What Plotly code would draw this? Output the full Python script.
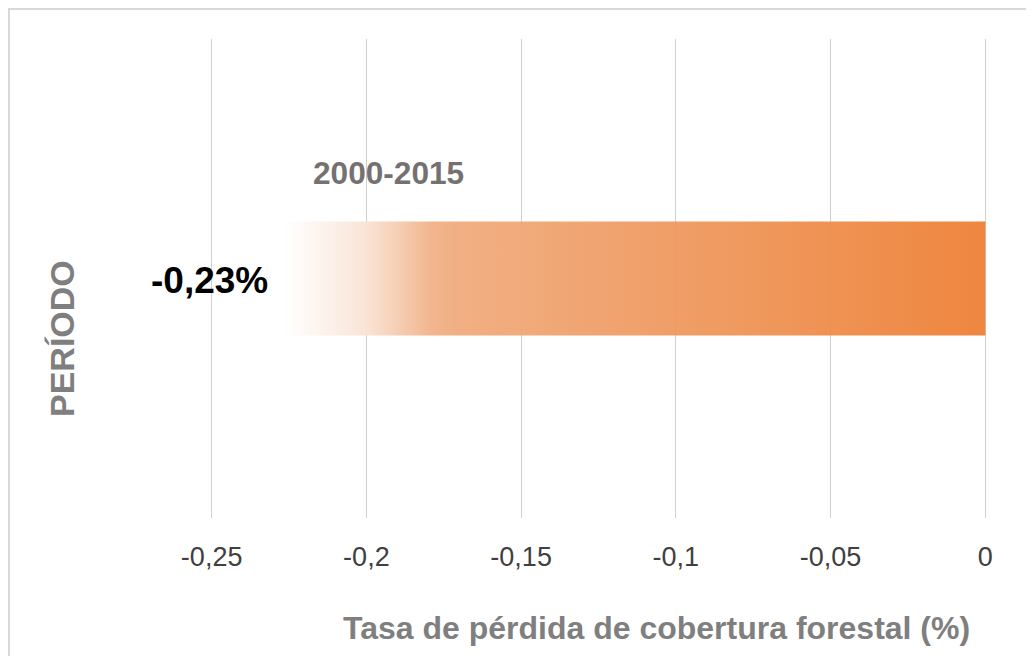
import plotly.graph_objects as go

# Data
periods = ["2000-2015"]
loss_rate = [-0.2266]          # % forest cover loss rate
rate_labels = ["-0,23%"]
tick_vals = [-0.25, -0.2, -0.15, -0.1, -0.05, 0]
tick_text = [("%g" % v).replace(".", ",") for v in tick_vals]

bar_half = 0.119               # half bar thickness in y units (one category)

# Gradient from white (left end of bar) to Excel orange
gradient = [
    [0.0, "#FFFFFF"],
    [0.06, "#FCF1EA"],
    [0.117, "#F9E2D3"],
    [0.16, "#F5CCB0"],
    [0.21, "#F1B086"],
    [0.24, "#F0AA7B"],
    [0.45, "#EF9D66"],
    [0.70, "#EE8F4E"],
    [1.0, "#ED7D31"],
]

W, H = 1026, 648
L, R, T, B = 199, 44, 31, 138
pw, ph = W - L - R, H - T - B

def px(x):   # figure pixel -> paper x
    return (x - L) / pw

def py(y):   # figure pixel -> paper y
    return (H - B - y) / ph

fig = go.Figure()

# Horizontal bar drawn as a filled rectangle so it can carry a gradient
for i, v in enumerate(loss_rate):
    fig.add_trace(go.Scatter(
        x=[v, 0, 0, v, v],
        y=[i - bar_half, i - bar_half, i + bar_half, i + bar_half, i - bar_half],
        mode="lines",
        line=dict(width=0),
        fill="toself",
        fillgradient=dict(type="horizontal", colorscale=gradient),
        opacity=0.93,
        hoverinfo="skip",
        showlegend=False,
    ))

    # value label left of the bar
    fig.add_annotation(
        x=v, y=i, xref="x", yref="y",
        text="<b>" + rate_labels[i] + "</b>",
        showarrow=False, xanchor="right", yanchor="middle", xshift=-14, yshift=-2,
        font=dict(size=37, color="#000000"),
    )

    # period label above the bar
    fig.add_annotation(
        x=px(380), y=py(165), xref="paper", yref="paper",
        text="<b>" + periods[i] + "</b>",
        showarrow=False, xanchor="center", yanchor="middle",
        font=dict(size=31.6, color="#767171"),
    )

# Axis titles as annotations
fig.add_annotation(
    x=px(54), y=py(331), xref="paper", yref="paper",
    text="<b>PERÍODO</b>", textangle=-90,
    showarrow=False, xanchor="center", yanchor="middle",
    font=dict(size=34, color="#7F7F7F"),
)
fig.add_annotation(
    x=px(648), y=py(620), xref="paper", yref="paper",
    text="<b>Tasa de pérdida de cobertura forestal (%)</b>",
    showarrow=False, xanchor="center", yanchor="middle",
    font=dict(size=32, color="#7F7F7F"),
)

# Chart border (runs off the right and bottom of the page like the original)
fig.add_shape(
    type="rect", xref="paper", yref="paper",
    x0=px(1), y0=py(H + 20), x1=px(W + 20), y1=py(1),
    line=dict(color="#D9D9D9", width=2),
    fillcolor="rgba(0,0,0,0)", layer="below",
)

# page body adds an 8px offset, so the figure is sized to fit the window
fig.update_layout(
    width=W, height=H,
    margin=dict(l=L, r=R, t=T, b=B),
    plot_bgcolor="white",
    paper_bgcolor="white",
    font=dict(family="Liberation Sans, Arial, sans-serif"),
    xaxis=dict(
        range=[-0.2515, 0.0015],
        tickvals=tick_vals, ticktext=tick_text,
        showgrid=True, gridcolor="#D0D0D0", gridwidth=1,
        zeroline=False, showline=False, ticks="",
        tickfont=dict(size=27, color="#404040"),
        ticklabelstandoff=20,
        fixedrange=True,
    ),
    yaxis=dict(
        range=[-0.5, 0.5],
        showgrid=False, zeroline=False, showline=False,
        showticklabels=False, ticks="",
        fixedrange=True,
    ),
)

fig.write_html("out.html")
